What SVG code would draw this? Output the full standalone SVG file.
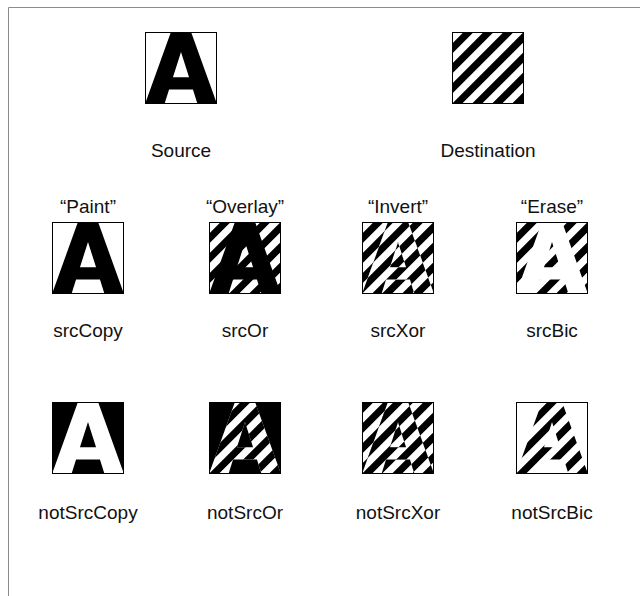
<svg xmlns="http://www.w3.org/2000/svg" width="640" height="596" viewBox="0 0 640 596">
<style>
.lbl{font-family:"Liberation Sans",Arial,Helvetica,sans-serif;font-size:19px;text-anchor:middle;fill:#111}
.box{fill:none;stroke:#000;stroke-width:1}
.frame{fill:none;stroke:#8c8c8c;stroke-width:1}
</style>
<defs>
<clipPath id="cBox"><rect x="0" y="0" width="85" height="85"/></clipPath>
<clipPath id="cA"><path clip-rule="evenodd" d="M30.6,0L54.4,0L85,85L62,85L56.6,68L28.4,68L23,85L0,85Z M42.5,23.6L52,53.5L33,53.5Z"/></clipPath>
<clipPath id="cNotA"><path clip-rule="evenodd" d="M0,0H85V85H0Z M30.6,0L54.4,0L85,85L62,85L56.6,68L28.4,68L23,85L0,85Z M42.5,23.6L52,53.5L33,53.5Z"/></clipPath>
<path id="A" fill-rule="evenodd" d="M30.6,0L54.4,0L85,85L62,85L56.6,68L28.4,68L23,85L0,85Z M42.5,23.6L52,53.5L33,53.5Z"/>
<g id="stripes" clip-path="url(#cBox)"><path d="M0.2,-10L12,-10L-93,95L-104.8,95Z M23.8,-10L35.6,-10L-69.4,95L-81.2,95Z M47.4,-10L59.2,-10L-45.8,95L-57.6,95Z M71,-10L82.8,-10L-22.2,95L-34,95Z M94.6,-10L106.4,-10L1.4,95L-10.4,95Z M118.2,-10L130,-10L25,95L13.2,95Z M141.8,-10L153.6,-10L48.6,95L36.8,95Z M165.4,-10L177.2,-10L72.2,95L60.4,95Z"/></g>
<rect id="bx" x="0.5" y="0.5" width="71" height="71" class="box"/>
</defs>
<path class="frame" d="M8.5,596V7.5H640"/>
<g id="connectors"/>
<g id="source" transform="translate(145,32)">
<g transform="scale(0.847059)"><rect width="85" height="85" fill="#fff"/><use href="#A" fill="#000"/></g><use href="#bx"/>
</g>
<text class="lbl" x="181" y="157">Source</text>
<g id="destination" transform="translate(452,32)">
<g transform="scale(0.847059)"><rect width="85" height="85" fill="#fff"/><use href="#stripes" fill="#000"/></g><use href="#bx"/>
</g>
<text class="lbl" x="488" y="157">Destination</text>
<g id="srcCopy">
<text class="lbl" x="88" y="213">“Paint”</text>
<g transform="translate(52,222)"><g transform="scale(0.847059)"><rect width="85" height="85" fill="#fff"/><use href="#A" fill="#000"/></g><use href="#bx"/></g>
<text class="lbl" x="88" y="337">srcCopy</text>
</g>
<g id="srcOr">
<text class="lbl" x="245" y="213">“Overlay”</text>
<g transform="translate(209,222)"><g transform="scale(0.847059)"><rect width="85" height="85" fill="#fff"/><use href="#stripes" fill="#000"/><use href="#A" fill="#000"/></g><use href="#bx"/></g>
<text class="lbl" x="245" y="337">srcOr</text>
</g>
<g id="srcXor">
<text class="lbl" x="398" y="213">“Invert”</text>
<g transform="translate(362,222)"><g transform="scale(0.847059)"><rect width="85" height="85" fill="#fff"/><g clip-path="url(#cNotA)"><use href="#stripes" fill="#000"/></g><g clip-path="url(#cA)"><rect width="85" height="85" fill="#000"/><use href="#stripes" fill="#fff"/></g></g><use href="#bx"/></g>
<text class="lbl" x="398" y="337">srcXor</text>
</g>
<g id="srcBic">
<text class="lbl" x="552" y="213">“Erase”</text>
<g transform="translate(516,222)"><g transform="scale(0.847059)"><rect width="85" height="85" fill="#fff"/><g clip-path="url(#cNotA)"><use href="#stripes" fill="#000"/></g></g><use href="#bx"/></g>
<text class="lbl" x="552" y="337">srcBic</text>
</g>
<g id="notSrcCopy">
<g transform="translate(52,402)"><g transform="scale(0.847059)"><rect width="85" height="85" fill="#000"/><use href="#A" fill="#fff"/></g><use href="#bx"/></g>
<text class="lbl" x="88" y="519">notSrcCopy</text>
</g>
<g id="notSrcOr">
<g transform="translate(209,402)"><g transform="scale(0.847059)"><rect width="85" height="85" fill="#000"/><g clip-path="url(#cA)"><rect width="85" height="85" fill="#fff"/><use href="#stripes" fill="#000"/></g></g><use href="#bx"/></g>
<text class="lbl" x="245" y="519">notSrcOr</text>
</g>
<g id="notSrcXor">
<g transform="translate(362,402)"><g transform="scale(0.847059)"><rect width="85" height="85" fill="#000"/><g clip-path="url(#cNotA)"><use href="#stripes" fill="#fff"/></g><g clip-path="url(#cA)"><rect width="85" height="85" fill="#fff"/><use href="#stripes" fill="#000"/></g></g><use href="#bx"/></g>
<text class="lbl" x="398" y="519">notSrcXor</text>
</g>
<g id="notSrcBic">
<g transform="translate(516,402)"><g transform="scale(0.847059)"><rect width="85" height="85" fill="#fff"/><g clip-path="url(#cA)"><use href="#stripes" fill="#000"/></g></g><use href="#bx"/></g>
<text class="lbl" x="552" y="519">notSrcBic</text>
</g>
</svg>
